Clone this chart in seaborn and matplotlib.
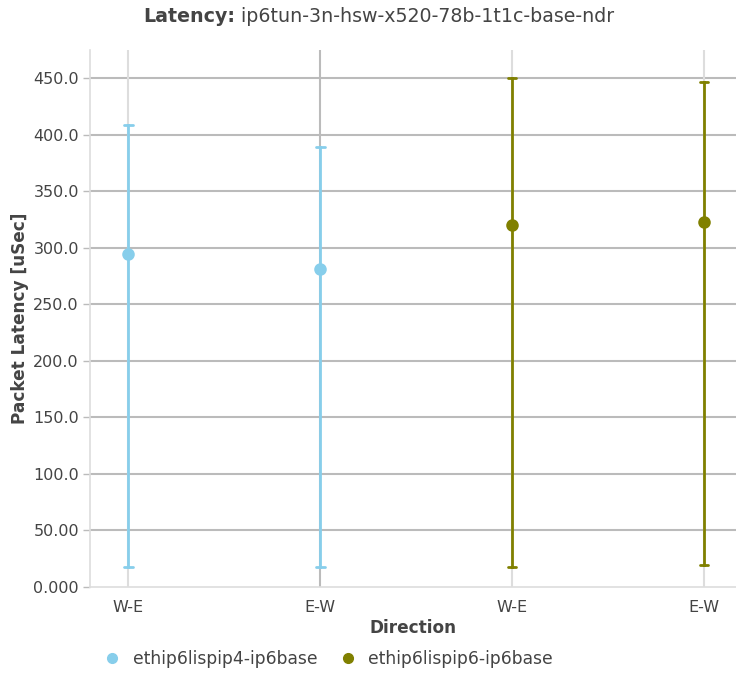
import matplotlib
matplotlib.use("Agg")
import matplotlib.pyplot as plt
import seaborn as sns
import pandas as pd
from matplotlib.lines import Line2D

# ---- data ----
series_names = ["ethip6lispip4-ip6base", "ethip6lispip6-ip6base"]
directions = ["W-E", "E-W", "W-E", "E-W"]
series_of_point = [0, 0, 1, 1]
lat_min = [17.5, 17.5, 17.5, 19.5]
lat_avg = [294.5, 281.0, 320.0, 322.5]
lat_max = [408.5, 389.0, 450.0, 446.5]
colors = ["#87CEEB", "#808000"]
yticks = [0, 50, 100, 150, 200, 250, 300, 350, 400, 450]
ytick_labels = ["0.000", "50.00", "100.0", "150.0", "200.0", "250.0",
                "300.0", "350.0", "400.0", "450.0"]

rows = []
for i, d in enumerate(directions):
    key = f"{i}:{d}"
    s = series_names[series_of_point[i]]
    for v in (lat_min[i], lat_avg[i], lat_max[i]):
        rows.append({"key": key, "series": s, "latency": v})
df = pd.DataFrame(rows)
order = [f"{i}:{d}" for i, d in enumerate(directions)]

sns.set_theme(style="white")
plt.rcParams["font.family"] = ["DejaVu Sans"]

fig = plt.figure(figsize=(7.36, 6.76), dpi=100)
ax = fig.add_axes([90 / 736, 89 / 676, 1 - 90 / 736, (587 - 50) / 676])

text_c = "#444444"

sns.pointplot(
    data=df, x="key", y="latency", hue="series", order=order,
    hue_order=series_names, palette=colors,
    estimator="median", errorbar=lambda x: (x.min(), x.max()),
    linestyle="none", dodge=False, capsize=0.045,
    markers="o", markersize=7,
    err_kws={"linewidth": 2}, ax=ax, legend=False,
)

ax.set_xlim(-0.2, (736 - 129) / 191.67)
ax.set_ylim(0, 475)

# gridlines
for yv in yticks[1:]:
    ax.axhline(yv, color="#bbbbbb", lw=1.5, zorder=0)
for i in range(len(directions)):
    ax.axvline(i, color="#bbbbbb" if i == 1 else "#dddddd", lw=1.5, zorder=0)

for sp in ["top", "right"]:
    ax.spines[sp].set_visible(False)
ax.spines["left"].set_color("#dddddd")
ax.spines["left"].set_linewidth(1.2)
ax.spines["bottom"].set_color("#dddddd")
ax.spines["bottom"].set_linewidth(1.2)

ax.set_yticks(yticks)
ax.set_yticklabels(ytick_labels)
ax.set_xticks(range(len(directions)))
ax.set_xticklabels(directions)
ax.tick_params(axis="y", left=True, length=5, width=1, color="#bbbbbb",
               labelsize=11.5, labelcolor=text_c, pad=3)
ax.tick_params(axis="x", bottom=False, labelsize=11.5, labelcolor=text_c, pad=3)

ax.set_xlabel("Direction", fontsize=12.2, fontweight="bold", color=text_c, labelpad=3)
ax.set_ylabel("Packet Latency [uSec]", fontsize=12.2, fontweight="bold", color=text_c, labelpad=3)

# title: bold prefix + normal remainder, centered as a whole
title_bold = "Latency:"
title_rest = " ip6tun-3n-hsw-x520-78b-1t1c-base-ndr"
title_y = 1 - 17 / 676
t1 = fig.text(0, title_y, title_bold, ha="left", va="center", fontsize=13.7,
              fontweight="bold", color=text_c)
t2 = fig.text(0, title_y, title_rest, ha="left", va="center", fontsize=13.7,
              color=text_c)
fig.canvas.draw()
r = fig.canvas.get_renderer()
w1 = t1.get_window_extent(r).width
w2 = t2.get_window_extent(r).width
cx = 379
x0 = cx - (w1 + w2) / 2
t1.set_x(x0 / 736)
t2.set_x((x0 + w1) / 736)

handles = [Line2D([], [], ls="none", marker="o", markersize=7, color=c) for c in colors]
fig.legend(handles, series_names, loc="center", bbox_to_anchor=(0.445, 1 - 659 / 676),
           ncol=2, frameon=False, fontsize=12.3, labelcolor=text_c,
           handletextpad=0.6, columnspacing=1.2, handlelength=1.2)

fig.savefig("out.png", dpi=100)
